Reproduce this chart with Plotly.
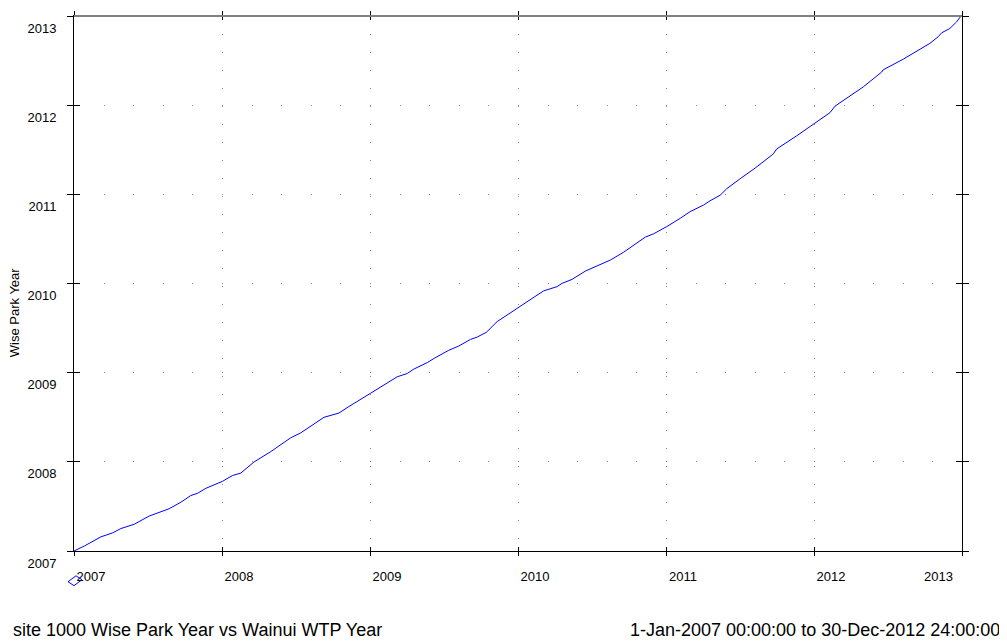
import plotly.graph_objects as go

# Data
wainui_year = [2007.000, 2007.070, 2007.182, 2007.261, 2007.317, 2007.407, 2007.508, 2007.576, 2007.643, 2007.722,
               2007.789, 2007.835, 2007.891, 2008.003, 2008.071, 2008.127, 2008.217, 2008.329, 2008.464, 2008.532,
               2008.655, 2008.689, 2008.790, 2008.858, 2009.004, 2009.117, 2009.184, 2009.252, 2009.296, 2009.387,
               2009.431, 2009.532, 2009.600, 2009.679, 2009.724, 2009.787, 2009.859, 2009.926, 2010.016, 2010.061,
               2010.173, 2010.264, 2010.298, 2010.365, 2010.455, 2010.534, 2010.623, 2010.713, 2010.792, 2010.860,
               2010.916, 2011.006, 2011.096, 2011.163, 2011.253, 2011.298, 2011.366, 2011.411, 2011.501, 2011.602,
               2011.725, 2011.748, 2011.883, 2012.007, 2012.108, 2012.142, 2012.209, 2012.333, 2012.457, 2012.468,
               2012.603, 2012.693, 2012.783, 2012.839, 2012.862, 2012.918, 2012.963, 2012.992]
wisepark_year = [2007.000, 2007.056, 2007.159, 2007.203, 2007.252, 2007.300, 2007.392, 2007.430, 2007.474, 2007.547,
                 2007.622, 2007.647, 2007.703, 2007.781, 2007.847, 2007.874, 2007.999, 2008.114, 2008.269, 2008.325,
                 2008.463, 2008.499, 2008.547, 2008.621, 2008.769, 2008.880, 2008.954, 2008.991, 2009.040, 2009.113,
                 2009.158, 2009.251, 2009.299, 2009.373, 2009.399, 2009.454, 2009.573, 2009.646, 2009.751, 2009.795,
                 2009.917, 2009.965, 2010.002, 2010.046, 2010.139, 2010.195, 2010.262, 2010.350, 2010.443, 2010.520,
                 2010.557, 2010.639, 2010.731, 2010.806, 2010.879, 2010.928, 2010.990, 2011.064, 2011.175, 2011.294,
                 2011.453, 2011.509, 2011.656, 2011.805, 2011.916, 2011.989, 2012.064, 2012.205, 2012.371, 2012.397,
                 2012.516, 2012.600, 2012.693, 2012.767, 2012.811, 2012.860, 2012.933, 2012.997]

x_ticks = [2007, 2008, 2009, 2010, 2011, 2012, 2013]
y_ticks = [2007, 2008, 2009, 2010, 2011, 2012, 2013]
x_tick_labels = [str(v) for v in x_ticks]
y_tick_labels = [str(v) for v in y_ticks]

y_title = "Wise Park Year"
footer_left = "site 1000 Wise Park Year vs Wainui WTP Year"
footer_right = "1-Jan-2007 00:00:00 to 30-Dec-2012 24:00:00"

FONT = "Arial, 'Liberation Sans', sans-serif"
OFF = 8  # page body margin
W, H = 1007 - OFF, 643 - OFF
L, T = 74 - OFF, 11 - OFF
R = W - (962 - OFF)
B = H - (551 - OFF)
PW, PH = W - L - R, H - T - B

fig = go.Figure()
fig.add_trace(go.Scatter(x=wainui_year, y=wisepark_year, mode="lines",
                         line=dict(color="#0000ff", width=1), showlegend=False,
                         hoverinfo="skip"))
# invisible trace on overlay axes so they are drawn
fig.add_trace(go.Scatter(x=[x_ticks[0]], y=[y_ticks[0]], xaxis="x2", yaxis="y2",
                         mode="markers", marker=dict(opacity=0), showlegend=False,
                         hoverinfo="skip"))

xr = [x_ticks[0], x_ticks[-1]]
yr = [y_ticks[0], y_ticks[-1]]
xdash = "1px,%.3fpx" % (PH / 30 - 1)
ydash = "1px,%.3fpx" % (PW / 30 - 1)

# last x label is drawn separately (it is kept inside the plot's right edge)
x_axis_text = x_tick_labels[:-1] + [""]

fig.update_layout(
    width=W, height=H,
    margin=dict(l=L, r=R, t=T, b=B),
    paper_bgcolor="white", plot_bgcolor="white",
    font=dict(family=FONT, size=13, color="black"),
    xaxis=dict(range=xr, tickvals=x_ticks, ticktext=x_axis_text,
               showline=True, linecolor="black", linewidth=1, mirror="ticks",
               ticks="outside", ticklen=4, tickwidth=1, tickcolor="black",
               showgrid=True, gridcolor="#8c8c8c", gridwidth=1, griddash=xdash,
               zeroline=False, tickfont=dict(size=13, family=FONT),
               ticklabelshift=17, ticklabelstandoff=9),
    yaxis=dict(range=yr, tickvals=y_ticks, ticktext=y_tick_labels,
               showline=True, linecolor="black", linewidth=1, mirror="ticks",
               ticks="outside", ticklen=6, tickwidth=1, tickcolor="black",
               showgrid=True, gridcolor="#8c8c8c", gridwidth=1, griddash=ydash,
               zeroline=False, tickfont=dict(size=13, family=FONT),
               ticklabelshift=12, ticklabelstandoff=8),
    xaxis2=dict(range=xr, tickvals=x_ticks, overlaying="x", side="bottom",
                showline=False, mirror="ticks", ticks="inside", ticklen=4,
                tickwidth=1, tickcolor="black", showgrid=False, zeroline=False,
                showticklabels=False),
    yaxis2=dict(range=yr, tickvals=y_ticks, overlaying="y", side="left",
                showline=False, mirror="ticks", ticks="inside", ticklen=6,
                tickwidth=1, tickcolor="black", showgrid=False, zeroline=False,
                showticklabels=False),
)

# gray top border
fig.add_shape(type="line", xref="paper", yref="paper", x0=0, x1=1, y0=1, y1=1,
              line=dict(color="#808080", width=2))


def px_to_paper(px, py):
    """reference-window pixel -> paper coordinate"""
    fx, fy = px - OFF, py - OFF
    return (fx - L) / PW, (H - B - fy) / PH


# last x tick label, right-aligned just inside the end tick
fig.add_annotation(text=x_tick_labels[-1], xref="x", yref="paper",
                   x=x_ticks[-1], y=px_to_paper(0, 577)[1], xshift=-7,
                   showarrow=False, xanchor="right", yanchor="middle",
                   font=dict(size=13, family=FONT, color="black"))

# small open diamond below the origin
pts = [px_to_paper(68, 582), px_to_paper(76, 576), px_to_paper(82, 580), px_to_paper(74, 586)]
path = "M %f,%f L %f,%f L %f,%f L %f,%f Z" % tuple(c for p in pts for c in p)
fig.add_shape(type="path", xref="paper", yref="paper", path=path,
              line=dict(color="#0000ff", width=1))

fig.add_annotation(text=y_title, xref="paper", yref="paper",
                   x=px_to_paper(14, 0)[0], y=px_to_paper(0, 310)[1],
                   textangle=-90, showarrow=False, xanchor="center", yanchor="middle",
                   font=dict(size=13, family=FONT, color="black"))
fig.add_annotation(text=footer_left, xref="paper", yref="paper",
                   x=px_to_paper(11, 0)[0], y=px_to_paper(0, 631)[1],
                   showarrow=False, xanchor="left", yanchor="middle",
                   font=dict(size=18, family=FONT, color="black"))
fig.add_annotation(text=footer_right, xref="paper", yref="paper",
                   x=px_to_paper(1001.5, 0)[0], y=px_to_paper(0, 631)[1],
                   showarrow=False, xanchor="right", yanchor="middle",
                   font=dict(size=18, family=FONT, color="black"))

fig.write_html("out.html")
